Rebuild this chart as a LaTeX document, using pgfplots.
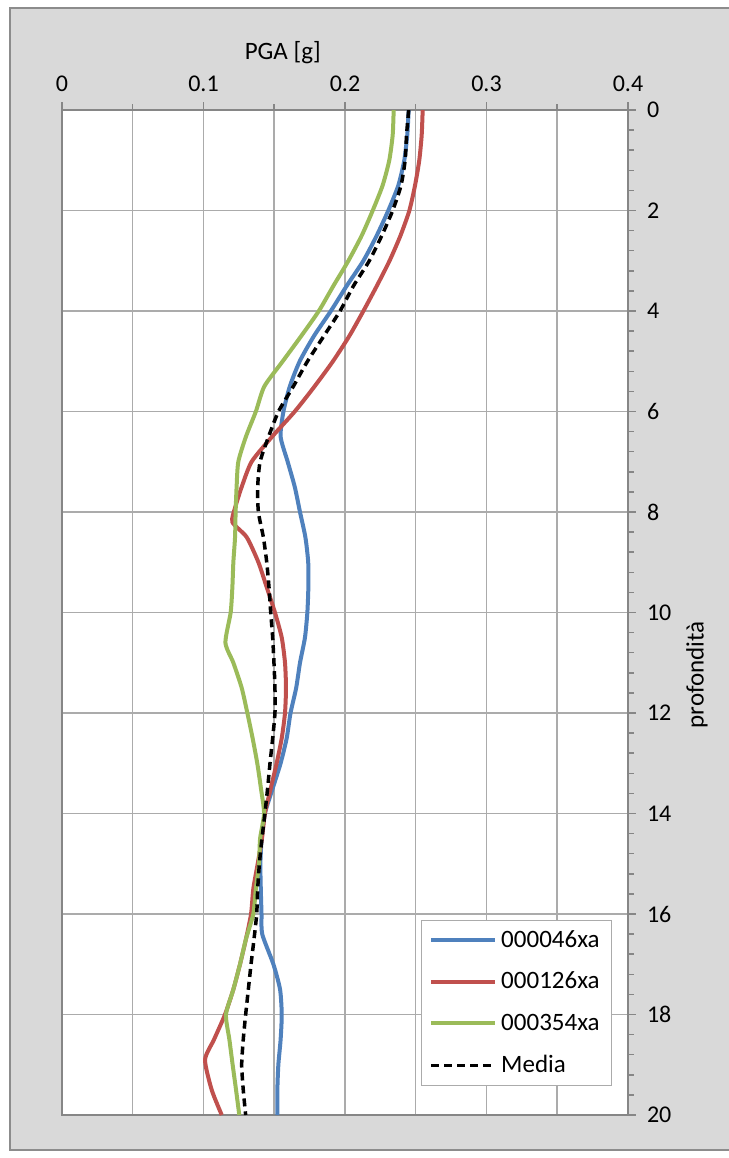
\documentclass[border=0pt]{standalone}
\usepackage{pgfplots}
\pgfplotsset{compat=1.18}
\usepackage{fontspec}
\setmainfont{Carlito}
\definecolor{cblue}{HTML}{4F81BD}
\definecolor{cred}{HTML}{C0504D}
\definecolor{cgreen}{HTML}{9BBB59}
\definecolor{bggray}{HTML}{D9D9D9}
\definecolor{framegray}{HTML}{8C8C8C}
\definecolor{gridgray}{HTML}{ABABAB}
\definecolor{axisgray}{HTML}{868686}
\begin{document}
\begin{tikzpicture}
\useasboundingbox (0,0) rectangle (364.5pt,579pt);
\fill[white] (0,0) rectangle (364.5pt,579pt);
\fill[bggray] (5pt,4pt) rectangle (364.5pt,575pt);
\draw[framegray, line width=0.75pt] (365pt,4pt) -- (5pt,4pt) -- (5pt,575pt) -- (365pt,575pt);
\begin{axis}[
  at={(31pt,21.5pt)}, anchor=south west,
  scale only axis, width=283pt, height=502.5pt,
  xmin=0, xmax=0.4, ymin=0, ymax=20, y dir=reverse,
  axis background/.style={fill=white},
  xtick={0,0.1,0.2,0.3,0.4},
  xticklabels={0,0.1,0.2,0.3,0.4},
  minor xtick={0.05,0.15,0.25,0.35},
  ytick={0,2,4,6,8,10,12,14,16,18,20},
  minor y tick num=4,
  xmajorgrids=true, xminorgrids=true, ymajorgrids=true, yminorgrids=false,
  grid style={draw=gridgray, line width=0.75pt},
  minor grid style={draw=gridgray, line width=0.75pt},
  major grid style={draw=gridgray, line width=0.75pt},
  xtick pos=right, xticklabel pos=right,
  ytick pos=right, yticklabel pos=right,
  tick align=outside,
  major tick length=4pt, minor tick length=3pt,
  tick style={draw=axisgray, line width=0.75pt},
  axis line style={draw=axisgray, line width=0.75pt},
  /pgf/number format/assume math mode=true,
  tick label style={font=\fontsize{12}{14}\selectfont},
  xticklabel style={yshift=1.5pt},
  yticklabel style={xshift=2pt},
  xlabel={PGA [g]},
  xlabel style={font=\fontsize{12.5}{14}\selectfont, at={(axis description cs:0.39,1.057)}, anchor=center},
  ylabel={profondità},
  ylabel style={font=\fontsize{12.5}{14}\selectfont, at={(axis description cs:1.122,0.438)}, anchor=center},
  legend style={at={(axis description cs:0.634,0.029)}, anchor=south west,
    draw=gridgray, fill=white, font=\fontsize{12.5}{14}\selectfont,
    row sep=7pt, inner xsep=4pt, inner ysep=3pt},
  legend cell align=left,
  legend image code/.code={\draw[#1] (0pt,0pt) -- (32pt,0pt);},
]
\addplot[cblue, line width=2pt, smooth, tension=0.4] coordinates {
(0.2450,0) (0.2440,0.5) (0.2419,1) (0.2377,1.5) (0.2306,2) (0.2224,2.5) (0.2130,3) (0.2012,3.5) (0.1900,4) (0.1780,4.5) (0.1680,5) (0.1610,5.5) (0.1565,6) (0.1545,6.5) (0.1595,7) (0.1645,7.5) (0.1682,8) (0.1720,8.5) (0.1740,9) (0.1741,9.5) (0.1734,10) (0.1717,10.5) (0.1682,11) (0.1655,11.5) (0.1615,12) (0.1588,12.5) (0.1545,13) (0.1489,13.5) (0.1434,14) (0.1411,14.5) (0.1402,15) (0.1405,15.5) (0.1410,16) (0.1415,16.4) (0.1494,17) (0.1541,17.5) (0.1553,18) (0.1545,18.5) (0.1529,19) (0.1522,19.5) (0.1522,20)};
\addlegendentry{000046xa}
\addplot[cred, line width=2pt, smooth, tension=0.4] coordinates {
(0.2549,0) (0.2542,0.5) (0.2525,1) (0.2495,1.5) (0.2455,2) (0.2392,2.5) (0.2315,3) (0.2225,3.5) (0.2130,4) (0.2030,4.5) (0.1915,5) (0.1785,5.5) (0.1645,6) (0.1485,6.5) (0.1340,7) (0.1270,7.5) (0.1225,7.9) (0.1204,8.2) (0.1305,8.5) (0.1388,9) (0.1447,9.5) (0.1505,10) (0.1553,10.5) (0.1576,11) (0.1583,11.5) (0.1576,12) (0.1553,12.5) (0.1517,13) (0.1475,13.5) (0.1434,14) (0.1413,14.5) (0.1383,15) (0.1352,15.5) (0.1336,16) (0.1300,16.5) (0.1258,17) (0.1211,17.5) (0.1152,18) (0.1074,18.5) (0.1011,18.9) (0.1058,19.5) (0.1129,20)};
\addlegendentry{000126xa}
\addplot[cgreen, line width=2pt, smooth, tension=0.4] coordinates {
(0.2344,0) (0.2337,0.5) (0.2313,1) (0.2266,1.5) (0.2196,2) (0.2118,2.5) (0.2024,3) (0.1918,3.5) (0.1815,4) (0.1690,4.5) (0.1560,5) (0.1430,5.5) (0.1370,6) (0.1300,6.5) (0.1246,7) (0.1234,7.5) (0.1227,8) (0.1223,8.5) (0.1211,9) (0.1204,9.5) (0.1192,10) (0.1155,10.6) (0.1211,11) (0.1270,11.5) (0.1310,12) (0.1347,12.5) (0.1380,13) (0.1406,13.5) (0.1428,14) (0.1400,14.5) (0.1392,15) (0.1370,15.5) (0.1352,16) (0.1300,16.5) (0.1258,17) (0.1211,17.5) (0.1159,18) (0.1183,18.5) (0.1206,19) (0.1230,19.5) (0.1253,20)};
\addlegendentry{000354xa}
\addplot[black, line width=1.75pt, dash pattern=on 4pt off 2.5pt, smooth, tension=0.4] coordinates {
(0.2450,0) (0.2435,0.5) (0.2425,1) (0.2396,1.5) (0.2337,2) (0.2260,2.5) (0.2172,3) (0.2060,3.5) (0.1965,4) (0.1850,4.5) (0.1735,5) (0.1635,5.5) (0.1530,6) (0.1460,6.5) (0.1400,7) (0.1383,7.5) (0.1388,8) (0.1423,8.5) (0.1447,9) (0.1463,9.5) (0.1475,10) (0.1489,10.5) (0.1498,11) (0.1505,11.5) (0.1505,12) (0.1489,12.5) (0.1470,13) (0.1453,13.5) (0.1434,14) (0.1413,14.5) (0.1395,15) (0.1383,15.5) (0.1376,16) (0.1357,16.5) (0.1336,17) (0.1317,17.5) (0.1298,18) (0.1281,18.5) (0.1270,19) (0.1281,19.5) (0.1298,20)};
\addlegendentry{Media}
\end{axis}
\end{tikzpicture}
\end{document}
